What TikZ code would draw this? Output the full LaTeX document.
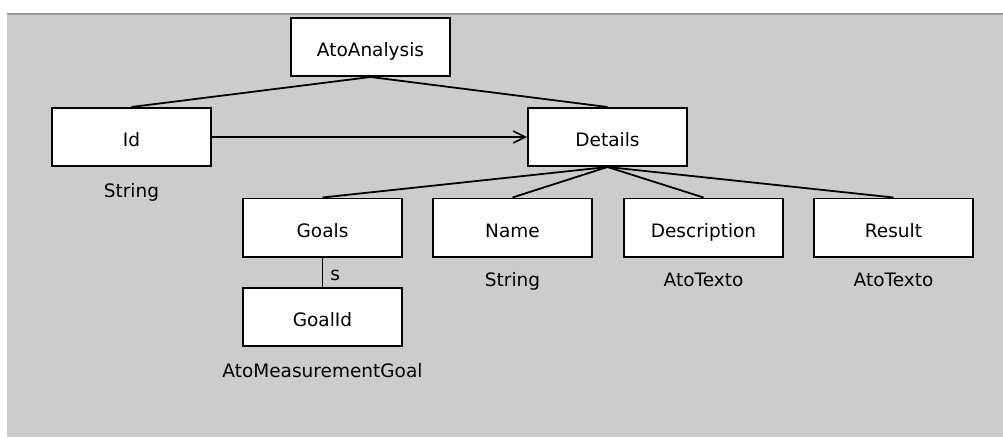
\documentclass[tikz,border=0pt]{standalone}
\usepackage{fontspec}
\setmainfont{DejaVu Sans}
\usetikzlibrary{arrows.meta}
\definecolor{bggray}{HTML}{CCCCCC}
\definecolor{topline}{HTML}{9A9A9A}
\tikzset{
  box/.style={draw=black, fill=white, line width=1.8pt, minimum width=159.2pt, minimum height=58.2pt,
    inner sep=0pt, font=\fontsize{18.5}{22}\selectfont, text height=19.5pt, text depth=0pt},
  typelbl/.style={inner sep=0pt, font=\fontsize{18.5}{22}\selectfont, text height=13.5pt, text depth=0pt},
  conn/.style={line width=1.8pt, draw=black},
}
\begin{document}
\begin{tikzpicture}[x=1pt, y=-1pt]
\useasboundingbox (0,0) rectangle (1003,437);
\fill[white] (0,0) rectangle (1003,437);
\fill[bggray] (7,14) rectangle (1003,437);
\draw[topline, line width=2.2pt] (7,14) -- (1003,14);

\node[box] (ato) at (370.5,47) {AtoAnalysis};
\node[box] (id) at (131.5,137) {Id};
\node[box] (det) at (607.5,137) {Details};
\node[box] (goals) at (322.5,227.5) {Goals};
\node[box] (name) at (512.5,227.5) {Name};
\node[box] (desc) at (703.5,227.5) {Description};
\node[box] (res) at (893.5,227.5) {Result};
\node[box] (goalid) at (322.5,317) {GoalId};

\node[typelbl] (idtype) at (131.5,190.5) {String};
\node[typelbl] (nametype) at (512.5,280) {String};
\node[typelbl] (desctype) at (703.5,280) {AtoTexto};
\node[typelbl] (restype) at (893.5,280) {AtoTexto};
\node[typelbl] (goalidtype) at (322.5,371) {AtoMeasurementGoal};

\draw[conn] (ato.south) -- (id.north);
\draw[conn] (ato.south) -- (det.north);
\draw[conn] (det.south) -- (goals.north);
\draw[conn] (det.south) -- (name.north);
\draw[conn] (det.south) -- (desc.north);
\draw[conn] (det.south) -- (res.north);
\draw[conn, -{Straight Barb[length=12pt, width=12pt, line width=1.6pt]}] (id.east) -- (det.west);
\draw[conn] (goals.south) -- node[typelbl, right=7pt, pos=0.55] (slbl) {s} (goalid.north);
\end{tikzpicture}
\end{document}
